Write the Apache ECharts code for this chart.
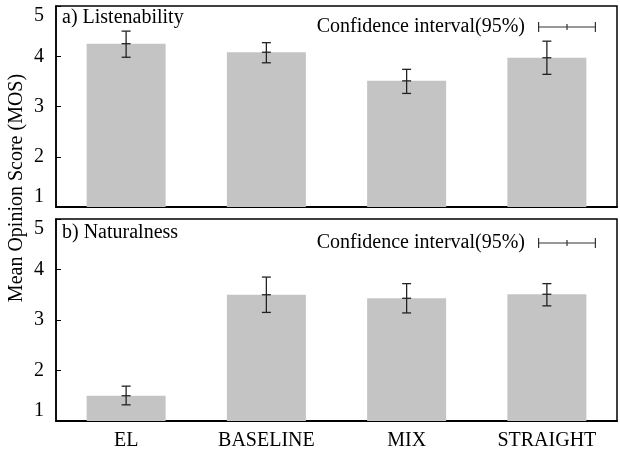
<!doctype html>
<html lang="en">

<head>
	<meta charset="UTF-8">
	<title>MOS</title>
	<style>
		html, body { margin: 0; padding: 0; background: #fff; }
		#mosChart { width: 620px; height: 452px; }
	</style>
</head>

<body>
	<div id="mosChart"></div>

	<script src="https://cdn.jsdelivr.net/npm/echarts@6/dist/echarts.min.js"></script>

	<script>
		// data
		var categories = ['EL', 'BASELINE', 'MIX', 'STRAIGHT'];
		var yTicks = [1, 2, 3, 4, 5];

		// a) Listenability
		var listenMean = [4.25, 4.08, 3.51, 3.97];
		var listenLow = [3.98, 3.87, 3.26, 3.64];
		var listenHigh = [4.50, 4.27, 3.74, 4.30];

		// b) Naturalness
		var natMean = [1.50, 3.50, 3.43, 3.51];
		var natLow = [1.32, 3.15, 3.14, 3.28];
		var natHigh = [1.69, 3.85, 3.72, 3.72];

		var ciName = 'Confidence interval(95%)';
		var serif = '"Liberation Serif", "DejaVu Serif", serif';

		function ciData(mean, low, high) {
			return categories.map(function (c, i) {
				return [i, mean[i], low[i], high[i]];
			});
		}

		// error bar drawn through the axis scales
		function renderCI(params, api) {
			var x = api.value(0);
			var mid = api.coord([x, api.value(1)]);
			var lo = api.coord([x, api.value(2)]);
			var hi = api.coord([x, api.value(3)]);
			var cap = 4.5;
			var style = { stroke: '#222', lineWidth: 1.3 };
			return {
				type: 'group',
				children: [
					{ type: 'line', shape: { x1: lo[0], y1: lo[1], x2: hi[0], y2: hi[1] }, style: style },
					{ type: 'line', shape: { x1: lo[0] - cap, y1: lo[1], x2: lo[0] + cap, y2: lo[1] }, style: style },
					{ type: 'line', shape: { x1: hi[0] - cap, y1: hi[1], x2: hi[0] + cap, y2: hi[1] }, style: style },
					{ type: 'line', shape: { x1: mid[0] - cap, y1: mid[1], x2: mid[0] + cap, y2: mid[1] }, style: style }
				]
			};
		}

		// horizontal error bar icon for the legend
		var ciIcon = 'path://M0,4.4h58v1.2h-58Z M0,0h1.2v10h-1.2Z M56.8,0h1.2v10h-1.2Z M28.4,2h1.2v6h-1.2Z';

		function yAxisOpt(gridIndex) {
			return {
				type: 'value',
				gridIndex: gridIndex,
				min: yTicks[0],
				max: yTicks[yTicks.length - 1],
				interval: 1,
				splitLine: { show: false },
				axisLine: { show: true, lineStyle: { color: '#000', width: 1.5 } },
				axisTick: { show: true, inside: true, length: 5, lineStyle: { color: '#000' } },
				axisLabel: {
					color: '#000', fontFamily: serif, fontSize: 20, margin: 12,
					verticalAlignMinLabel: 'bottom', verticalAlignMaxLabel: 'top'
				}
			};
		}

		function legendOpt(top) {
			return {
				data: [ciName],
				right: 24,
				top: top,
				align: 'right',
				icon: ciIcon,
				itemWidth: 58,
				itemHeight: 10,
				padding: 0,
				textStyle: { color: '#000', fontFamily: serif, fontSize: 20, padding: [0, 8, 0, 0] }
			};
		}

		var chart = echarts.init(document.getElementById('mosChart'));

		var option = {
			animation: false,
			backgroundColor: '#fff',
			title: [
				{ text: 'a) Listenability', left: 62, top: 8, padding: 0,
					textStyle: { color: '#000', fontFamily: serif, fontSize: 20, fontWeight: 'normal' } },
				{ text: 'b) Naturalness', left: 62, top: 223, padding: 0,
					textStyle: { color: '#000', fontFamily: serif, fontSize: 20, fontWeight: 'normal' } }
			],
			legend: [legendOpt(17), legendOpt(233)],
			grid: [
				{ left: 56, right: 3, top: 6, height: 201, show: true, borderColor: '#000', borderWidth: 1.5, outerBoundsMode: 'none' },
				{ left: 56, right: 3, top: 219, height: 202, show: true, borderColor: '#000', borderWidth: 1.5, outerBoundsMode: 'none' }
			],
			xAxis: [
				{ type: 'category', gridIndex: 0, data: categories,
					axisLine: { show: true, lineStyle: { color: '#000', width: 2 } },
					axisTick: { show: false }, axisLabel: { show: false } },
				{ type: 'category', gridIndex: 1, data: categories,
					axisLine: { show: true, lineStyle: { color: '#000', width: 2 } },
					axisTick: { show: false },
					axisLabel: { color: '#000', fontFamily: serif, fontSize: 20, margin: 10 } }
			],
			yAxis: [yAxisOpt(0), yAxisOpt(1)],
			graphic: [{
				type: 'text',
				x: 17,
				y: 188,
				rotation: Math.PI / 2,
				style: {
					text: 'Mean Opinion Score (MOS)',
					fill: '#000',
					font: '20px ' + serif,
					align: 'center',
					verticalAlign: 'middle'
				}
			}],
			series: [
				{ type: 'bar', xAxisIndex: 0, yAxisIndex: 0, data: listenMean, barWidth: 79,
					itemStyle: { color: '#c4c4c4' } },
				{ type: 'custom', name: ciName, xAxisIndex: 0, yAxisIndex: 0, renderItem: renderCI,
					itemStyle: { color: '#333' }, data: ciData(listenMean, listenLow, listenHigh), z: 5 },
				{ type: 'bar', xAxisIndex: 1, yAxisIndex: 1, data: natMean, barWidth: 79,
					itemStyle: { color: '#c4c4c4' } },
				{ type: 'custom', name: ciName, xAxisIndex: 1, yAxisIndex: 1, renderItem: renderCI,
					itemStyle: { color: '#333' }, data: ciData(natMean, natLow, natHigh), z: 5 }
			]
		};

		chart.setOption(option);
	</script>
</body>

</html>
